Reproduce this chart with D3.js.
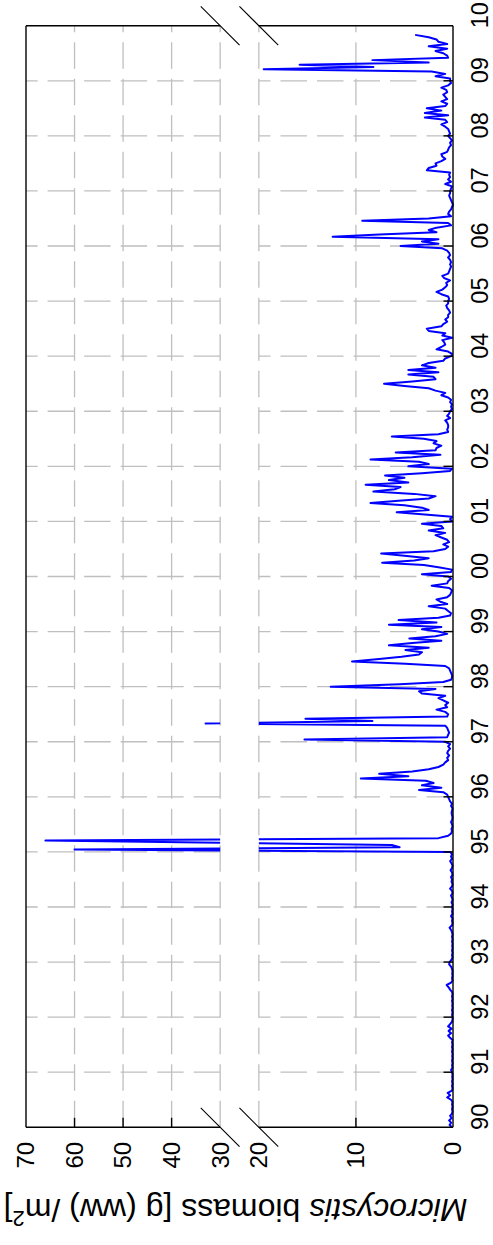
<!DOCTYPE html>
<html>
<head>
<meta charset="utf-8">
<script src="https://cdn.jsdelivr.net/npm/d3@7"></script>
<style>
  html, body { margin: 0; padding: 0; background: #fff; }
  svg { display: block; }
</style>
</head>
<body>
<svg id="chart" width="493" height="1245"></svg>
<script>
// Microcystis biomass, 1990-2009, sampled 24 times per year (g ww / m2)
const years = [1990,1991,1992,1993,1994,1995,1996,1997,1998,1999,2000,2001,2002,2003,2004,2005,2006,2007,2008,2009];
const b1990 = [0.1,0.35,0.2,0.4,0.15,0.3,0.1,0.05,0.1,0.05,0.1,0.05,0.2,0.6,0.3,0.55,0.1,0.05,0.1,0.05,0.1,0.05,0.08,0.05];
const b1991 = [0.1,0.2,0.05,0.1,0.05,0.1,0.05,0.08,0.05,0.1,0.05,0.1,0.05,0.1,0.05,0.3,0.5,0.2,0.45,0.15,0.5,0.3,0.1,0.05];
const b1992 = [0.05,0.1,0.05,0.1,0.05,0.08,0.05,0.1,0.05,0.1,0.05,0.1,0.3,0.45,0.65,0.2,0.05,0.1,0.05,0.08,0.05,0.1,0.2,0.4];
const b1993 = [0.35,0.15,0.05,0.1,0.05,0.1,0.05,0.08,0.05,0.1,0.05,0.1,0.05,0.1,0.2,0.35,0.1,0.05,0.1,0.05,0.2,0.05,0.1,0.05];
const b1994 = [0.1,0.05,0.15,0.05,0.1,0.2,0.05,0.1,0.3,0.1,0.05,0.15,0.1,0.2,0.05,0.1,0.25,0.1,0.05,0.15,0.3,0.1,0.2,0.1];
const b1995 = [0.3,60,5.5,6.3,30,66,1.5,0.5,0.2,0.1,0.15,0.05,0.1,0.2,0.1,0.05,0.1,0.15,0.1,0.05,0.2,0.1,0.3,0.4];
const b1996 = [0.5,0.6,1.0,3.5,1.2,3.2,2.0,2.8,9.5,4.6,7.6,4.2,2.5,1.5,1.0,0.8,0.5,0.6,0.4,0.6,0.5,0.3,0.5,0.3];
const b1997 = [0.8,15.3,0.6,0.5,0.4,0.5,0.6,0.8,33,8.3,15.2,0.6,0.5,0.8,1.7,0.6,0.8,0.5,1.0,1.5,0.8,3.2,3.5,1.8];
const b1998 = [12.6,5.5,1.0,0.2,0.1,0.1,0.2,0.3,0.4,0.8,4.9,10.4,7.6,5.3,3.5,3.2,4.9,2.5,6.6,4.2,1.2,4.5,1.8,0.6];
const b1999 = [1.5,3.2,1.2,6.6,1.7,5.6,1.5,0.3,0.2,0.5,0.8,2.5,0.6,1.3,1.7,0.6,0.3,0.2,0.1,0.4,2.2,0.6,0.5,0.2];
const b2000 = [0.5,3.2,0.2,0.1,1.5,3.0,7.3,4.0,2.5,5.0,7.4,2.0,0.8,0.5,1.0,0.4,0.6,1.2,1.8,0.8,2.5,1.0,1.2,3.2];
const b2001 = [0.1,0.3,0.1,2.9,5.8,2.5,3.2,5.0,8.5,5.6,2.5,1.8,4.0,8.2,6.0,5.4,9.0,4.6,6.6,5.0,7.0,3.2,0.3,0.1];
const b2002 = [4.6,2.5,3.5,8.5,4.2,1.3,5.9,1.8,1.7,1.2,2.0,1.7,3.0,6.3,1.5,0.5,0.6,0.5,0.5,0.6,0.8,0.3,0.6,0.4];
const b2003 = [0.3,0.1,0.2,0.1,0.3,0.2,0.5,1.2,0.8,1.8,2.5,5.0,7.1,4.2,1.8,2.0,4.6,1.5,4.6,1.8,3.2,2.5,1.0,0.8];
const b2004 = [0.2,0.1,0.5,1.7,1.2,0.8,0.9,1.1,0.1,1.1,0.8,2.5,2.7,1.2,1.0,0.6,0.8,0.5,0.5,0.3,0.4,0.6,0.7,0.5];
const b2005 = [0.5,0.4,0.5,1.2,1.7,1.1,0.8,0.6,0.7,0.3,0.9,1.1,0.5,0.4,0.3,0.2,0.3,0.2,0.3,0.5,0.3,0.4,0.6,1.1];
const b2006 = [5.4,1.5,3.2,1.5,12.4,7.6,1.7,2.5,1.7,0.2,0.5,9.35,2.5,0.2,0.5,0.4,0.2,0.1,0.0,0.1,0.2,0.3,0.4,0.3];
const b2007 = [0.3,0.2,0.1,0.8,0.2,0.5,0.3,0.4,0.3,2.7,2.5,1.7,1.8,1.2,0.8,1.1,1.2,0.6,0.5,0.4,0.2,0.3,0.1,0.3];
const b2008 = [0.5,0.3,0.4,0.5,0.8,1.2,0.6,0.8,2.9,0.5,2.9,1.2,2.7,0.8,0.6,1.2,0.6,0.8,1.0,0.6,0.7,1.2,0.5,0.2];
const b2009 = [0.3,0.3,1.8,0.8,2.2,19.5,8.2,15.8,2.5,8.3,0.5,0.6,1.0,1.8,0.6,2.5,0.6,1.5,1.7,2.5,3.9];
const yearlyBiomass = [b1990,b1991,b1992,b1993,b1994,b1995,b1996,b1997,b1998,b1999,
                       b2000,b2001,b2002,b2003,b2004,b2005,b2006,b2007,b2008,b2009];
const samplesPerYear = 24;

// axis ticks
const yearTickValues = [1990,1991,1992,1993,1994,1995,1996,1997,1998,1999,2000,2001,2002,2003,2004,2005,2006,2007,2008,2009,2010];
const yearTickLabels = ["90","91","92","93","94","95","96","97","98","99","00","01","02","03","04","05","06","07","08","09","10"];
const biomassTicks = [0,10,20,30,40,50,60,70];
const biomassGrid = [10,20,30,40,50,60];
const breakLow = 20, breakHigh = 30;

// flatten into one time series
const series = [];
yearlyBiomass.forEach((vals, k) => {
  vals.forEach((v, i) => series.push({ date: years[k] + i / samplesPerYear, value: v }));
});

// The chart is laid out landscape (1245 x 493) and turned a quarter turn
const W = 1245, H = 493;
const plot = { left: 117.7, right: 1219.3, top: 26, bottom: 453 };
const gap = 38.7;
const seg = (plot.bottom - plot.top - gap) / 2;

const x = d3.scaleLinear().domain([1990, 2010]).range([plot.left, plot.right]);
const y = d3.scaleLinear()
  .domain([0, breakLow, breakHigh, 70])
  .range([plot.bottom, plot.bottom - seg, plot.top + seg, plot.top]);

const svg = d3.select("#chart");
svg.append("rect").attr("width", 493).attr("height", 1245).attr("fill", "#fff");

const g = svg.append("g").attr("transform", `translate(0,${W}) rotate(-90)`);

const font = "'Liberation Sans', Arial, Helvetica, sans-serif";
const gridColor = "#bfbfbf";
const dash = "26.5,10";

// clip regions either side of the axis break
const defs = g.append("defs");
const clip = defs.append("clipPath").attr("id", "brokenAxis");
clip.append("rect").attr("x", plot.left - 6).attr("width", plot.right - plot.left + 12)
  .attr("y", plot.top - 6).attr("height", y(breakHigh) - plot.top + 6);
clip.append("rect").attr("x", plot.left - 6).attr("width", plot.right - plot.left + 12)
  .attr("y", y(breakLow)).attr("height", plot.bottom - y(breakLow) + 6);

// vertical (date) grid, drawn in two pieces around the break
const gridG = g.append("g");
[[0, breakLow], [breakHigh, 70]].forEach(([lo, hi]) => {
  gridG.selectAll(null)
    .data(yearTickValues.slice(1, -1))
    .enter().append("line")
    .attr("x1", d => x(d)).attr("x2", d => x(d))
    .attr("y1", y(lo)).attr("y2", y(hi))
    .attr("stroke", gridColor).attr("stroke-width", 1.3)
    .attr("stroke-dasharray", dash);
});
// horizontal (biomass) grid
gridG.selectAll(null)
  .data(biomassGrid)
  .enter().append("line")
  .attr("x1", plot.left).attr("x2", plot.right)
  .attr("y1", d => y(d)).attr("y2", d => y(d))
  .attr("stroke", gridColor).attr("stroke-width", 1.3)
  .attr("stroke-dasharray", dash);

// biomass line
const line = d3.line().x(d => x(d.date)).y(d => y(d.value));
g.append("path")
  .datum(series)
  .attr("clip-path", "url(#brokenAxis)")
  .attr("d", line)
  .attr("fill", "none")
  .attr("stroke", "#0000ff")
  .attr("stroke-width", 2)
  .attr("stroke-linejoin", "round");

// frame
const frame = g.append("g").attr("stroke", "#000").attr("stroke-width", 1.4).attr("fill", "none");
frame.append("line").attr("x1", plot.left).attr("x2", plot.right).attr("y1", plot.top).attr("y2", plot.top);
frame.append("line").attr("x1", plot.left).attr("x2", plot.right).attr("y1", plot.bottom).attr("y2", plot.bottom);
[plot.left, plot.right].forEach(px => {
  frame.append("line").attr("x1", px).attr("x2", px).attr("y1", plot.bottom).attr("y2", y(breakLow));
  frame.append("line").attr("x1", px).attr("x2", px).attr("y1", y(breakHigh)).attr("y2", plot.top);
});

// break marks
const slash = 19.4;
[plot.left, plot.right].forEach(px => {
  [breakLow, breakHigh].forEach(v => {
    g.append("line")
      .attr("x1", px - slash).attr("y1", y(v) + slash)
      .attr("x2", px + slash).attr("y2", y(v) - slash)
      .attr("stroke", "#000").attr("stroke-width", 1.1);
  });
});

// date axis ticks (inward) and labels
const tickLen = 9.5;
g.append("g").selectAll("line")
  .data(yearTickValues.slice(1, -1))
  .enter().append("line")
  .attr("x1", d => x(d)).attr("x2", d => x(d))
  .attr("y1", plot.bottom).attr("y2", plot.bottom - tickLen)
  .attr("stroke", "#000").attr("stroke-width", 1.4);
g.append("g").selectAll("text")
  .data(yearTickValues)
  .enter().append("text")
  .attr("x", d => x(d) + 10.5)
  .attr("y", 487.5)
  .attr("text-anchor", "middle")
  .attr("font-family", font).attr("font-size", 23.5)
  .text((d, i) => yearTickLabels[i]);

// biomass axis ticks (inward) and labels
g.append("g").selectAll("line")
  .data(biomassTicks.filter(v => v > 0 && v < 70 && v !== breakLow && v !== breakHigh))
  .enter().append("line")
  .attr("x1", plot.left).attr("x2", plot.left + tickLen)
  .attr("y1", d => y(d)).attr("y2", d => y(d))
  .attr("stroke", "#000").attr("stroke-width", 1.4);
g.append("g").selectAll("text")
  .data(biomassTicks)
  .enter().append("text")
  .attr("x", plot.left - 14.5)
  .attr("y", d => y(d))
  .attr("dy", "0.35em")
  .attr("text-anchor", "end")
  .attr("font-family", font).attr("font-size", 24)
  .text(d => d);

// axis title
const title = g.append("text")
  .attr("transform", `translate(46.5,${(plot.top + plot.bottom) / 2 - 4}) rotate(-90)`)
  .attr("text-anchor", "middle")
  .attr("font-family", font).attr("font-size", 32);
title.append("tspan").attr("font-style", "italic").text("Microcystis");
title.append("tspan").text(" biomass [g (ww) /m");
title.append("tspan").attr("font-size", 22).attr("dy", -12).text("2");
title.append("tspan").attr("dy", 12).text("]");
</script>
</body>
</html>
